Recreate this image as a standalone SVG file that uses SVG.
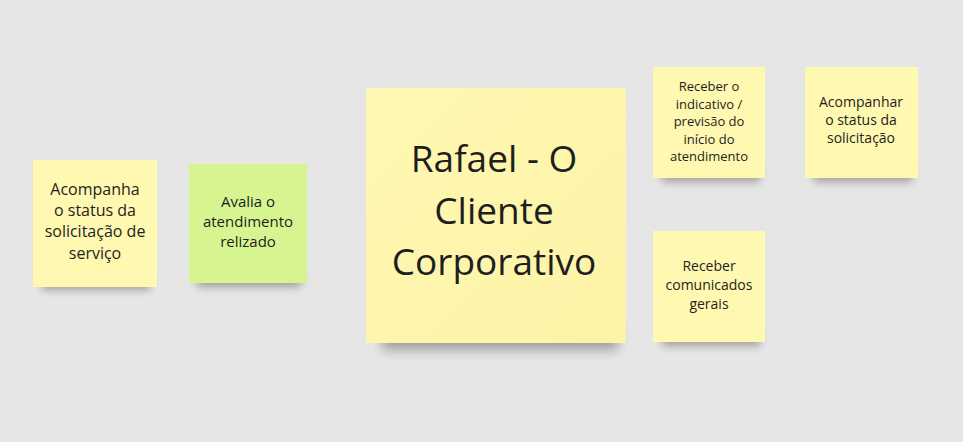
<svg xmlns="http://www.w3.org/2000/svg" width="963" height="442" viewBox="0 0 963 442">
<defs>
<filter id="sh" x="-20%" y="-50%" width="140%" height="200%"><feGaussianBlur stdDeviation="4"/></filter>
<filter id="shb" x="-20%" y="-50%" width="140%" height="200%"><feGaussianBlur stdDeviation="6"/></filter>
<linearGradient id="yg" x1="0" y1="0" x2="1" y2="1"><stop offset="0" stop-color="#fff8b2"/><stop offset="1" stop-color="#fcf3a6"/></linearGradient>
</defs>
<style>
.y{fill:#fff8b0}
.g{fill:#d6f591}
.s{fill:#000;opacity:.3}
text{font-family:"Open Sans","Noto Sans","DejaVu Sans",sans-serif;fill:#1e1e1e;text-anchor:middle}
</style>
<rect width="963" height="442" fill="#e6e6e6"/>
<g id="n1">
<rect class="s" x="42" y="272" width="108" height="18" filter="url(#sh)"/>
<rect class="y" x="33" y="160" width="124" height="127"/>
<text font-size="16"><tspan x="95" y="195">Acompanha</tspan><tspan x="95" y="216">o status da</tspan><tspan x="95" y="237">solicitação de</tspan><tspan x="95" y="259">serviço</tspan></text>
</g>
<g id="n2">
<rect class="s" x="197" y="270" width="104" height="17" filter="url(#sh)"/>
<rect class="g" x="189" y="164" width="118" height="119"/>
<text font-size="15"><tspan x="248" y="207">Avalia o</tspan><tspan x="248" y="227">atendimento</tspan><tspan x="248" y="247">relizado</tspan></text>
</g>
<g id="n3">
<rect class="s" x="382" y="322" width="236" height="28" filter="url(#shb)"/>
<rect x="366" y="88" width="260" height="255" fill="url(#yg)"/>
<text font-size="37"><tspan x="494" y="172">Rafael - O</tspan><tspan x="494" y="224">Cliente</tspan><tspan x="494" y="275">Corporativo</tspan></text>
</g>
<g id="n4">
<rect class="s" x="662" y="166" width="98" height="16" filter="url(#sh)"/>
<rect class="y" x="653" y="67" width="112" height="111"/>
<text font-size="13"><tspan x="709" y="91">Receber o</tspan><tspan x="709" y="108.5">indicativo /</tspan><tspan x="709" y="126">previsão do</tspan><tspan x="709" y="143.5">início do</tspan><tspan x="709" y="161">atendimento</tspan></text>
</g>
<g id="n5">
<rect class="s" x="814" y="166" width="98" height="16" filter="url(#sh)"/>
<rect class="y" x="805" y="67" width="113" height="111"/>
<text font-size="14"><tspan x="861" y="107">Acompanhar</tspan><tspan x="861" y="125">o status da</tspan><tspan x="861" y="143">solicitação</tspan></text>
</g>
<g id="n6">
<rect class="s" x="662" y="330" width="98" height="16" filter="url(#sh)"/>
<rect class="y" x="653" y="231" width="112" height="111"/>
<text font-size="14"><tspan x="709" y="271">Receber</tspan><tspan x="709" y="290">comunicados</tspan><tspan x="709" y="309">gerais</tspan></text>
</g>
<g id="connectors"/>
</svg>
